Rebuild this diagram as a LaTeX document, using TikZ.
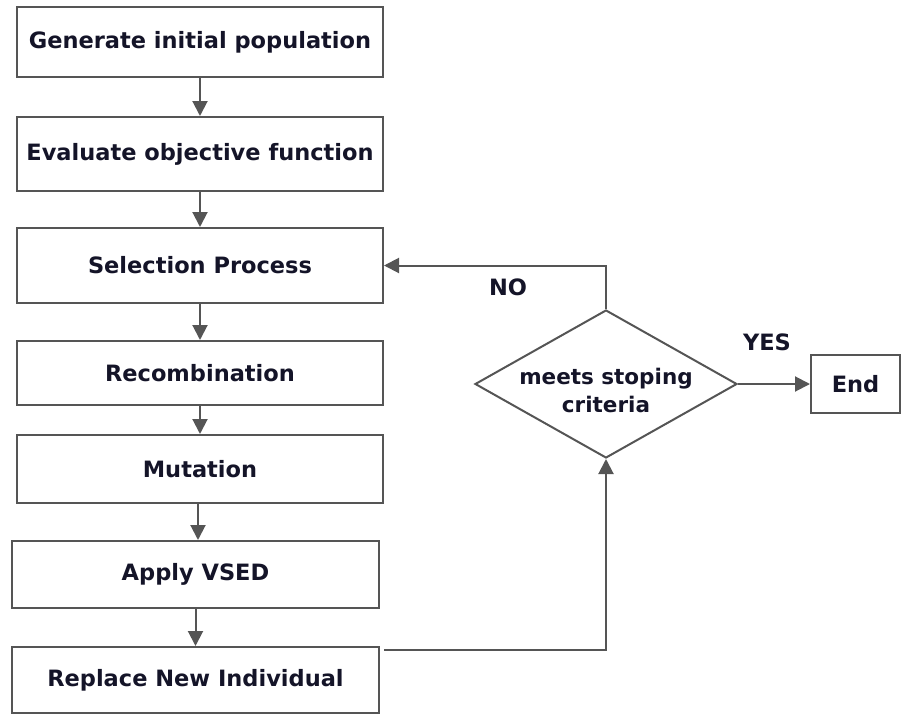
\documentclass[tikz,border=0pt]{standalone}
\usepackage{fontspec}
\setmainfont{DejaVu Sans}
\usetikzlibrary{shapes.geometric,arrows.meta}
\definecolor{linegray}{HTML}{555555}
\definecolor{txt}{HTML}{141428}
\tikzset{
  box/.style={draw=linegray, line width=2pt, rectangle, inner sep=0pt,
              font=\fontsize{22.5}{26}\selectfont\bfseries, text=txt},
  decision/.style={draw=linegray, line width=2pt, diamond, aspect=1.77, inner sep=0pt,
              minimum width=262pt, minimum height=148pt},
  dtext/.style={align=center, inner sep=0pt,
              font=\fontsize{21.5}{28}\selectfont\bfseries, text=txt},
  flow/.style={draw=linegray, line width=2pt,
               -{Triangle[length=15pt,width=15pt]}, fill=none},
  lbl/.style={font=\fontsize{22.5}{26}\selectfont\bfseries, text=txt, inner sep=0pt},
}
\begin{document}
\begin{tikzpicture}[x=1pt,y=-1pt]
  \useasboundingbox (0,0) rectangle (903,715);
  % main chain of steps
  \node[box, minimum width=366pt, minimum height=70pt] (gen) at (200,42) {Generate initial population};
  \node[box, minimum width=366pt, minimum height=74pt] (eval) at (200,154) {Evaluate objective function};
  \node[box, minimum width=366pt, minimum height=75pt] (sel) at (200,265.5) {Selection Process};
  \node[box, minimum width=366pt, minimum height=64pt] (rec) at (200,373) {Recombination};
  \node[box, minimum width=366pt, minimum height=68pt] (mut) at (200,469) {Mutation};
  \node[box, minimum width=367pt, minimum height=67pt] (vsed) at (195.5,574.5) {Apply VSED};
  \node[box, minimum width=367pt, minimum height=66pt] (rep) at (195.5,680) {Replace New Individual};
  % termination test and end
  \node[decision] (dec) at (606,384) {};
  \node[dtext] (dectext) at ([yshift=-6pt]dec.center) {meets stoping\\criteria};
  \node[box, minimum width=89pt, minimum height=58pt] (end) at (855.5,384) {End};
  % connectors
  \draw[flow] (gen.south) -- (gen.south |- eval.north);
  \draw[flow] (eval.south) -- (eval.south |- sel.north);
  \draw[flow] (sel.south) -- (sel.south |- rec.north);
  \draw[flow] (rec.south) -- (rec.south |- mut.north);
  \draw[flow] ([xshift=-2pt]mut.south) -- ([xshift=-2pt]mut.south |- vsed.north);
  \draw[flow] (vsed.south) -- (vsed.south |- rep.north);
  \coordinate (repout) at ([xshift=4pt,yshift=-4pt]rep.north east);
  \draw[flow] (repout) -| (dec.south);
  \draw[flow] (dec.north) |- (sel.east);
  \draw[flow] (dec.east) -- (end.west);
  % branch labels
  \node[lbl] (no) at (508,287) {NO};
  \node[lbl] (yes) at (767,342) {YES};
\end{tikzpicture}
\end{document}
